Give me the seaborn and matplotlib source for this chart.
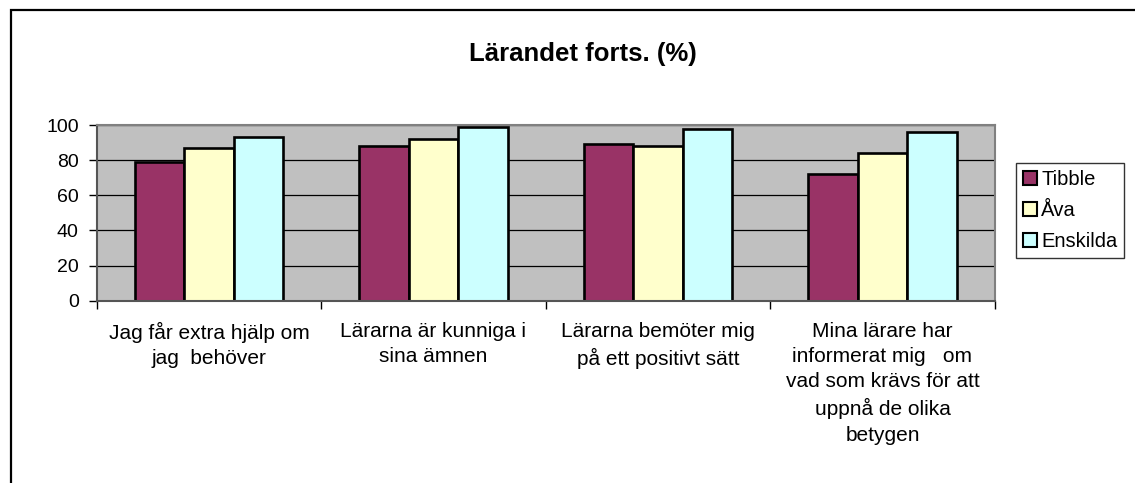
import matplotlib
matplotlib.use("Agg")
import matplotlib.pyplot as plt
import seaborn as sns
import pandas as pd
from matplotlib.patches import Rectangle
from matplotlib.ticker import FixedLocator

categories = [
    "Jag får extra hjälp om\njag  behöver",
    "Lärarna är kunniga i\nsina ämnen",
    "Lärarna bemöter mig\npå ett positivt sätt",
    "Mina lärare har\ninformerat mig   om\nvad som krävs för att\nuppnå de olika\nbetygen",
]
series_names = ["Tibble", "Åva", "Enskilda"]
tibble = [79, 88, 89, 72]
ava = [87, 92, 88, 84]
enskilda = [93, 99, 98, 96]
colors = ["#993366", "#FFFFCC", "#CCFFFF"]
yticks = [0, 20, 40, 60, 80, 100]

rows = []
for name, vals in zip(series_names, [tibble, ava, enskilda]):
    for c, v in zip(categories, vals):
        rows.append({"cat": c, "serie": name, "val": v})
df = pd.DataFrame(rows)

sns.set_style("white")
plt.rcParams["font.family"] = ["Liberation Sans", "DejaVu Sans"]
plt.rcParams["text.color"] = "black"
plt.rcParams["xtick.color"] = "black"
plt.rcParams["ytick.color"] = "black"
plt.rcParams["axes.labelcolor"] = "black"

W, H = 1135, 483
fig = plt.figure(figsize=(W / 100, H / 100), dpi=100)
ax = fig.add_axes([96.7 / W, 1 - 300.7 / H, (994.7 - 96.7) / W, (300.7 - 125) / H])

sns.barplot(data=df, x="cat", y="val", hue="serie", order=categories,
            hue_order=series_names, palette=dict(zip(series_names, colors)),
            width=0.66, gap=0, edgecolor="black", linewidth=1.9,
            saturation=1, ax=ax, legend=True)

ax.set_facecolor("#C0C0C0")
ax.set_ylim(0, 100)
ax.set_xlim(-0.5, len(categories) - 0.5)
ax.set_yticks(yticks)
ax.yaxis.grid(True, color="black", linewidth=0.9)
ax.set_axisbelow(True)
ax.set_xlabel("")
ax.set_ylabel("")

ax.tick_params(axis="y", which="major", length=6, width=1, color="black",
               labelcolor="black", labelsize=14, pad=7, left=True)
ax.tick_params(axis="x", which="major", length=0, labelsize=15, pad=15,
               labelcolor="black")
ax.xaxis.set_minor_locator(FixedLocator([i - 0.5 for i in range(len(categories) + 1)]))
ax.tick_params(axis="x", which="minor", length=6, width=1, color="black", bottom=True)
for lab in ax.get_xticklabels():
    lab.set_multialignment("center")
    lab.set_linespacing(1.42)

for s in ["top", "right"]:
    ax.spines[s].set_color("#808080")
    ax.spines[s].set_linewidth(1.5)
for s in ["left", "bottom"]:
    ax.spines[s].set_color("#555555")
    ax.spines[s].set_linewidth(1.5)

handles, labels = ax.get_legend_handles_labels()
ax.get_legend().remove()
leg = fig.legend(handles, labels, loc="upper left",
                 bbox_to_anchor=(1016 / W, 1 - 163 / H), bbox_transform=fig.transFigure,
                 borderaxespad=0, frameon=True, fancybox=False, fontsize=14.5,
                 handlelength=0.7, handleheight=0.7, handletextpad=0.2,
                 labelspacing=0.6, borderpad=0.35, labelcolor="black")
leg.get_frame().set_edgecolor("black")
leg.get_frame().set_linewidth(1.0)
for h in leg.legend_handles:
    h.set_linewidth(1.5)
    h.set_edgecolor("black")

fig.text(583 / W, 1 - 54 / H, "Lärandet forts. (%)", ha="center", va="center",
         fontsize=18.5, fontweight="bold", color="black")

fig.patches.append(Rectangle((10.5 / W, -0.1), 1.2, 1 - 10 / H + 0.1,
                             transform=fig.transFigure, fill=False,
                             edgecolor="black", linewidth=1.6))

fig.savefig("out.png", dpi=100)
